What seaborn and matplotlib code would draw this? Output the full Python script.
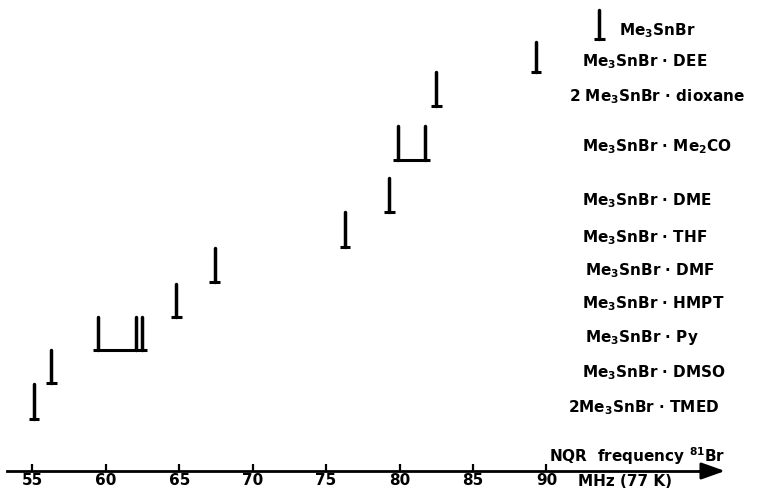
import matplotlib
matplotlib.use("Agg")
import matplotlib.pyplot as plt
from matplotlib.transforms import blended_transform_factory
import seaborn as sns
import pandas as pd

# ---- data ----
compounds = ["Me$_3$SnBr", "Me$_3$SnBr · DEE", "2 Me$_3$SnBr · dioxane",
             "Me$_3$SnBr · Me$_2$CO", "Me$_3$SnBr · DME", "Me$_3$SnBr · THF",
             "Me$_3$SnBr · DMF", "Me$_3$SnBr · HMPT", "Me$_3$SnBr · Py",
             "Me$_3$SnBr · DMSO", "2Me$_3$SnBr · TMED"]
freqs = [[93.6], [89.3], [82.5], [79.9, 81.7], [79.3], [76.3], [67.4],
         [64.8], [59.5, 62.05, 62.45], [56.3], [55.1]]
ticks = [55, 60, 65, 70, 75, 80, 85, 90]
tick_labels = ["55", "60", "65", "70", "75", "80", "85", "90"]

# ---- layout (vertical placement of rows, in pixel-like units) ----
row_bottom = [39, 72, 106, 160, 212, 247, 282, 317, 350, 383, 419]
row_top = [10, 42, 72, 126, 178, 212, 248, 284, 317, 350, 384]
label_px = [619, 582, 569, 582, 582, 582, 585, 582, 585, 582, 568]
label_base = [35, 66, 101, 151, 205, 242, 275, 308, 342, 377, 412]
axis_y = 471

sns.set_theme(style="white")
plt.rcParams["font.family"] = ["DejaVu Sans"]
plt.rcParams["mathtext.fontset"] = "dejavusans"
plt.rcParams["mathtext.default"] = "regular"

fig = plt.figure(figsize=(7.62, 4.9), dpi=100)
ax = fig.add_axes([0, 0, 1, 1])

rows = []
for i, (fl, yb, yt) in enumerate(zip(freqs, row_bottom, row_top)):
    for j, f in enumerate(fl):
        seg = f"{i}_{j}"
        rows.append({"freq": f, "y": yb, "seg": seg})
        rows.append({"freq": f, "y": yt, "seg": seg})
df = pd.DataFrame(rows)

sns.lineplot(data=df, x="freq", y="y", units="seg", estimator=None, sort=False,
             color="black", linewidth=2.5, legend=False, ax=ax)

half_foot = 0.36
for fl, yb in zip(freqs, row_bottom):
    ax.hlines(yb, min(fl) - half_foot, max(fl) + half_foot, color="black", lw=2.2)

ax.set_xlim(52.794, 104.68)
ax.set_ylim(490, 0)
ax.set_xlabel("")
ax.set_ylabel("")

for s in ["top", "left", "right"]:
    ax.spines[s].set_visible(False)
ax.spines["bottom"].set_position(("data", axis_y))
ax.spines["bottom"].set_linewidth(2.0)
ax.spines["bottom"].set_color("black")
ax.spines["bottom"].set_bounds(53.27, 101.0)
ax.set_yticks([])
ax.set_xticks(ticks)
ax.set_xticklabels(tick_labels)
ax.tick_params(axis="x", direction="in", length=5, width=1.6, colors="black",
               labelsize=11, pad=1.5, bottom=True)
for lab in ax.get_xticklabels():
    lab.set_fontweight("bold")
ax.annotate("", xy=(102.16, axis_y), xytext=(100.5, axis_y),
            arrowprops=dict(arrowstyle="-|>,head_length=0.9,head_width=0.32",
                            color="black", lw=2.0, mutation_scale=16,
                            shrinkA=0, shrinkB=0))

tr = blended_transform_factory(ax.transAxes, ax.transData)
for name, px, yb in zip(compounds, label_px, label_base):
    ax.text(px / 762, yb, name, transform=tr, ha="left", va="baseline",
            fontsize=11, fontweight="bold", color="black")

ax.text(549 / 762, 462, "NQR  frequency $^{81}$Br", transform=tr, ha="left",
        va="baseline", fontsize=11, fontweight="bold", color="black")
ax.text(578 / 762, 486, "MHz (77 K)", transform=tr, ha="left",
        va="baseline", fontsize=11, fontweight="bold", color="black")

fig.savefig("out.png", dpi=100, facecolor="white")
